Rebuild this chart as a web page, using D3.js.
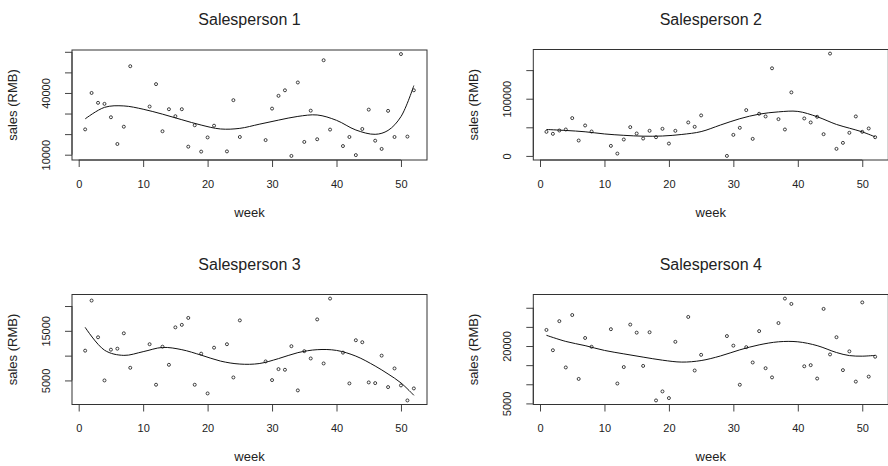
<!DOCTYPE html>
<html>
<head>
<meta charset="utf-8">
<script src="https://cdn.jsdelivr.net/npm/d3@7"></script>
<style>
  html, body { margin: 0; padding: 0; background: #fff; }
  svg { display: block; font-family: "Liberation Sans", Arial, sans-serif; }
</style>
</head>
<body>
<svg id="chart" width="888" height="466"></svg>
<script>
// Weekly sales per salesperson (null = no record for that week)
const weeks = [1,2,3,4,5,6,7,8,9,10,11,12,13,14,15,16,17,18,19,20,21,22,23,24,25,26,
               27,28,29,30,31,32,33,34,35,36,37,38,39,40,41,42,43,44,45,46,47,48,49,50,51,52];

const sales1 = [22300,40000,35200,34700,28200,15200,23600,53000,null,null,33400,44300,21400,32100,28700,32100,
                13900,24300,11500,18400,24100,null,11600,36500,18600,null,null,null,17100,32400,38600,41300,
                9400,45100,16200,31400,17500,55900,22200,null,14200,18600,9800,22500,31900,16800,12800,31300,
                18600,58900,18800,41300];
const sales2 = [42100,38600,44400,46200,66100,26900,53200,42700,null,null,17500,4100,28700,50300,39200,30400,
                43900,32700,47400,21600,43900,null,58500,50900,70800,null,null,null,0,36800,49100,80100,
                29800,73700,69000,153200,64300,46200,111100,null,65500,58500,68400,38000,178900,12300,22800,40400,
                69000,42100,48000,32700];
const sales3 = [11000,21100,13700,5000,11200,11400,14500,7550,null,null,12300,4130,11800,8150,15700,16200,
                17600,4130,10400,2380,11600,null,12300,5600,17100,null,null,null,8830,5070,7280,7150,
                11900,2990,10900,9430,17300,8420,21500,null,10600,4400,13100,12700,4600,4460,10000,3660,
                7420,3990,970,3390];
const sales4 = [24200,18900,26500,14400,28100,11400,22100,19800,null,null,24400,10200,14500,25600,23500,14800,
                23600,5780,8140,6390,21100,null,27600,13600,17700,null,null,null,22600,20100,9880,19700,
                15700,23900,14200,11800,26000,32400,31000,null,14700,15000,11500,29700,17800,22300,13700,18600,
                10700,31400,12000,17200];

// Smoothed trend read at these weeks
const trendWeeks = [1,4,7,10,13,16,19,22,25,28,31,34,37,40,43,46,48,50,52];
const trend1 = [27400,33000,33700,32100,29700,27000,24400,22500,22800,24800,26800,28600,29300,26700,22000,19900,21800,28500,43600];
const trend2 = [46200,44500,42200,38400,36000,34500,34800,37500,42500,54000,65000,73000,77000,77800,68500,55000,48500,42000,33300];
const trend3 = [15700,11100,10050,10800,11650,11200,10100,8900,8300,8400,9400,10600,11200,11050,9900,7900,6300,4500,2000];
const trend4 = [22800,21200,20100,18850,17950,17100,16300,15800,16200,17400,19000,20300,21100,21100,20100,18300,17500,17350,17550];

const titles = ["Salesperson 1", "Salesperson 2", "Salesperson 3", "Salesperson 4"];
const xTicks = [0, 10, 20, 30, 40, 50];
const yTicks = [
  [10000, 20000, 30000, 40000, 50000, 60000],
  [0, 50000, 100000, 150000],
  [5000, 10000, 15000, 20000],
  [5000, 10000, 15000, 20000, 25000, 30000]
];
const yTickLabels = [
  [10000, 40000],
  [0, 100000],
  [5000, 15000],
  [5000, 20000]
];
const xLabel = "week";
const yLabel = "sales (RMB)";

const sales = [sales1, sales2, sales3, sales4];
const trends = [trend1, trend2, trend3, trend4];

// Plot-region boxes
const boxes = [
  { left: 72,    right: 427,   top: 50,   bottom: 160 },
  { left: 533.3, right: 888.3, top: 49.5, bottom: 160 },
  { left: 72,    right: 427,   top: 294.5, bottom: 404.5 },
  { left: 533.3, right: 888.3, top: 294.5, bottom: 404.5 }
];

const svg = d3.select("#chart");
const ink = "#222";

// extend a range by 4% each side
function padded(lo, hi) {
  const d = (hi - lo) * 0.04;
  return [lo - d, hi + d];
}

boxes.forEach((b, i) => {
  const pts = weeks.map((w, k) => ({ w, v: sales[i][k] })).filter(d => d.v !== null);
  const x = d3.scaleLinear().domain(padded(1, 52)).range([b.left, b.right]);
  const ext = d3.extent(pts, d => d.v);
  const y = d3.scaleLinear().domain(padded(ext[0], ext[1])).range([b.bottom, b.top]);

  const g = svg.append("g");

  // title
  g.append("text")
    .attr("x", (b.left + b.right) / 2)
    .attr("y", b.top - 25)
    .attr("text-anchor", "middle")
    .attr("font-size", 16)
    .attr("fill", ink)
    .text(titles[i]);

  // x axis
  const xa = g.append("g")
    .attr("transform", `translate(0,${b.bottom})`)
    .call(d3.axisBottom(x).tickValues(xTicks).tickSize(7).tickPadding(6).tickFormat(d3.format("d")));
  xa.select(".domain").remove();
  xa.selectAll(".tick line").attr("stroke", "#444");
  xa.selectAll(".tick text").attr("font-size", 11).attr("fill", ink)
    .attr("y", 27.5).attr("dy", 0);
  xa.append("line")
    .attr("x1", x(xTicks[0])).attr("x2", x(xTicks[xTicks.length - 1]))
    .attr("stroke", "#444");

  // y axis
  const labelled = new Set(yTickLabels[i]);
  const ya = g.append("g")
    .attr("transform", `translate(${b.left},0)`)
    .call(d3.axisLeft(y).tickValues(yTicks[i]).tickSize(7)
      .tickFormat(d => labelled.has(d) ? String(d) : ""));
  ya.select(".domain").remove();
  ya.selectAll(".tick line").attr("stroke", "#444");
  ya.selectAll(".tick text")
    .attr("font-size", 11).attr("fill", ink)
    .attr("transform", "rotate(-90)")
    .attr("x", 0).attr("y", -22).attr("dy", 0)
    .attr("text-anchor", "middle");
  ya.append("line")
    .attr("y1", y(yTicks[i][0])).attr("y2", y(yTicks[i][yTicks[i].length - 1]))
    .attr("stroke", "#444");

  // axis titles
  g.append("text")
    .attr("x", (b.left + b.right) / 2)
    .attr("y", b.bottom + 56.5)
    .attr("text-anchor", "middle")
    .attr("font-size", 13)
    .attr("fill", ink)
    .text(xLabel);
  g.append("text")
    .attr("transform", `translate(${b.left - 55},${(b.top + b.bottom) / 2}) rotate(-90)`)
    .attr("text-anchor", "middle")
    .attr("font-size", 13)
    .attr("fill", ink)
    .text(yLabel);

  // frame
  g.append("rect")
    .attr("x", b.left).attr("y", b.top)
    .attr("width", b.right - b.left).attr("height", b.bottom - b.top)
    .attr("fill", "none").attr("stroke", "#333").attr("stroke-width", 1);

  // points
  g.append("g").selectAll("circle").data(pts).join("circle")
    .attr("cx", d => x(d.w)).attr("cy", d => y(d.v)).attr("r", 1.5)
    .attr("fill", "none").attr("stroke", "#111").attr("stroke-width", 0.8);

  // smoothed trend
  const tr = trendWeeks.map((w, k) => [w, trends[i][k]]);
  g.append("path")
    .attr("d", d3.line().x(d => x(d[0])).y(d => y(d[1])).curve(d3.curveCatmullRom.alpha(0.5))(tr))
    .attr("fill", "none").attr("stroke", "#111").attr("stroke-width", 1);
});
</script>
</body>
</html>
